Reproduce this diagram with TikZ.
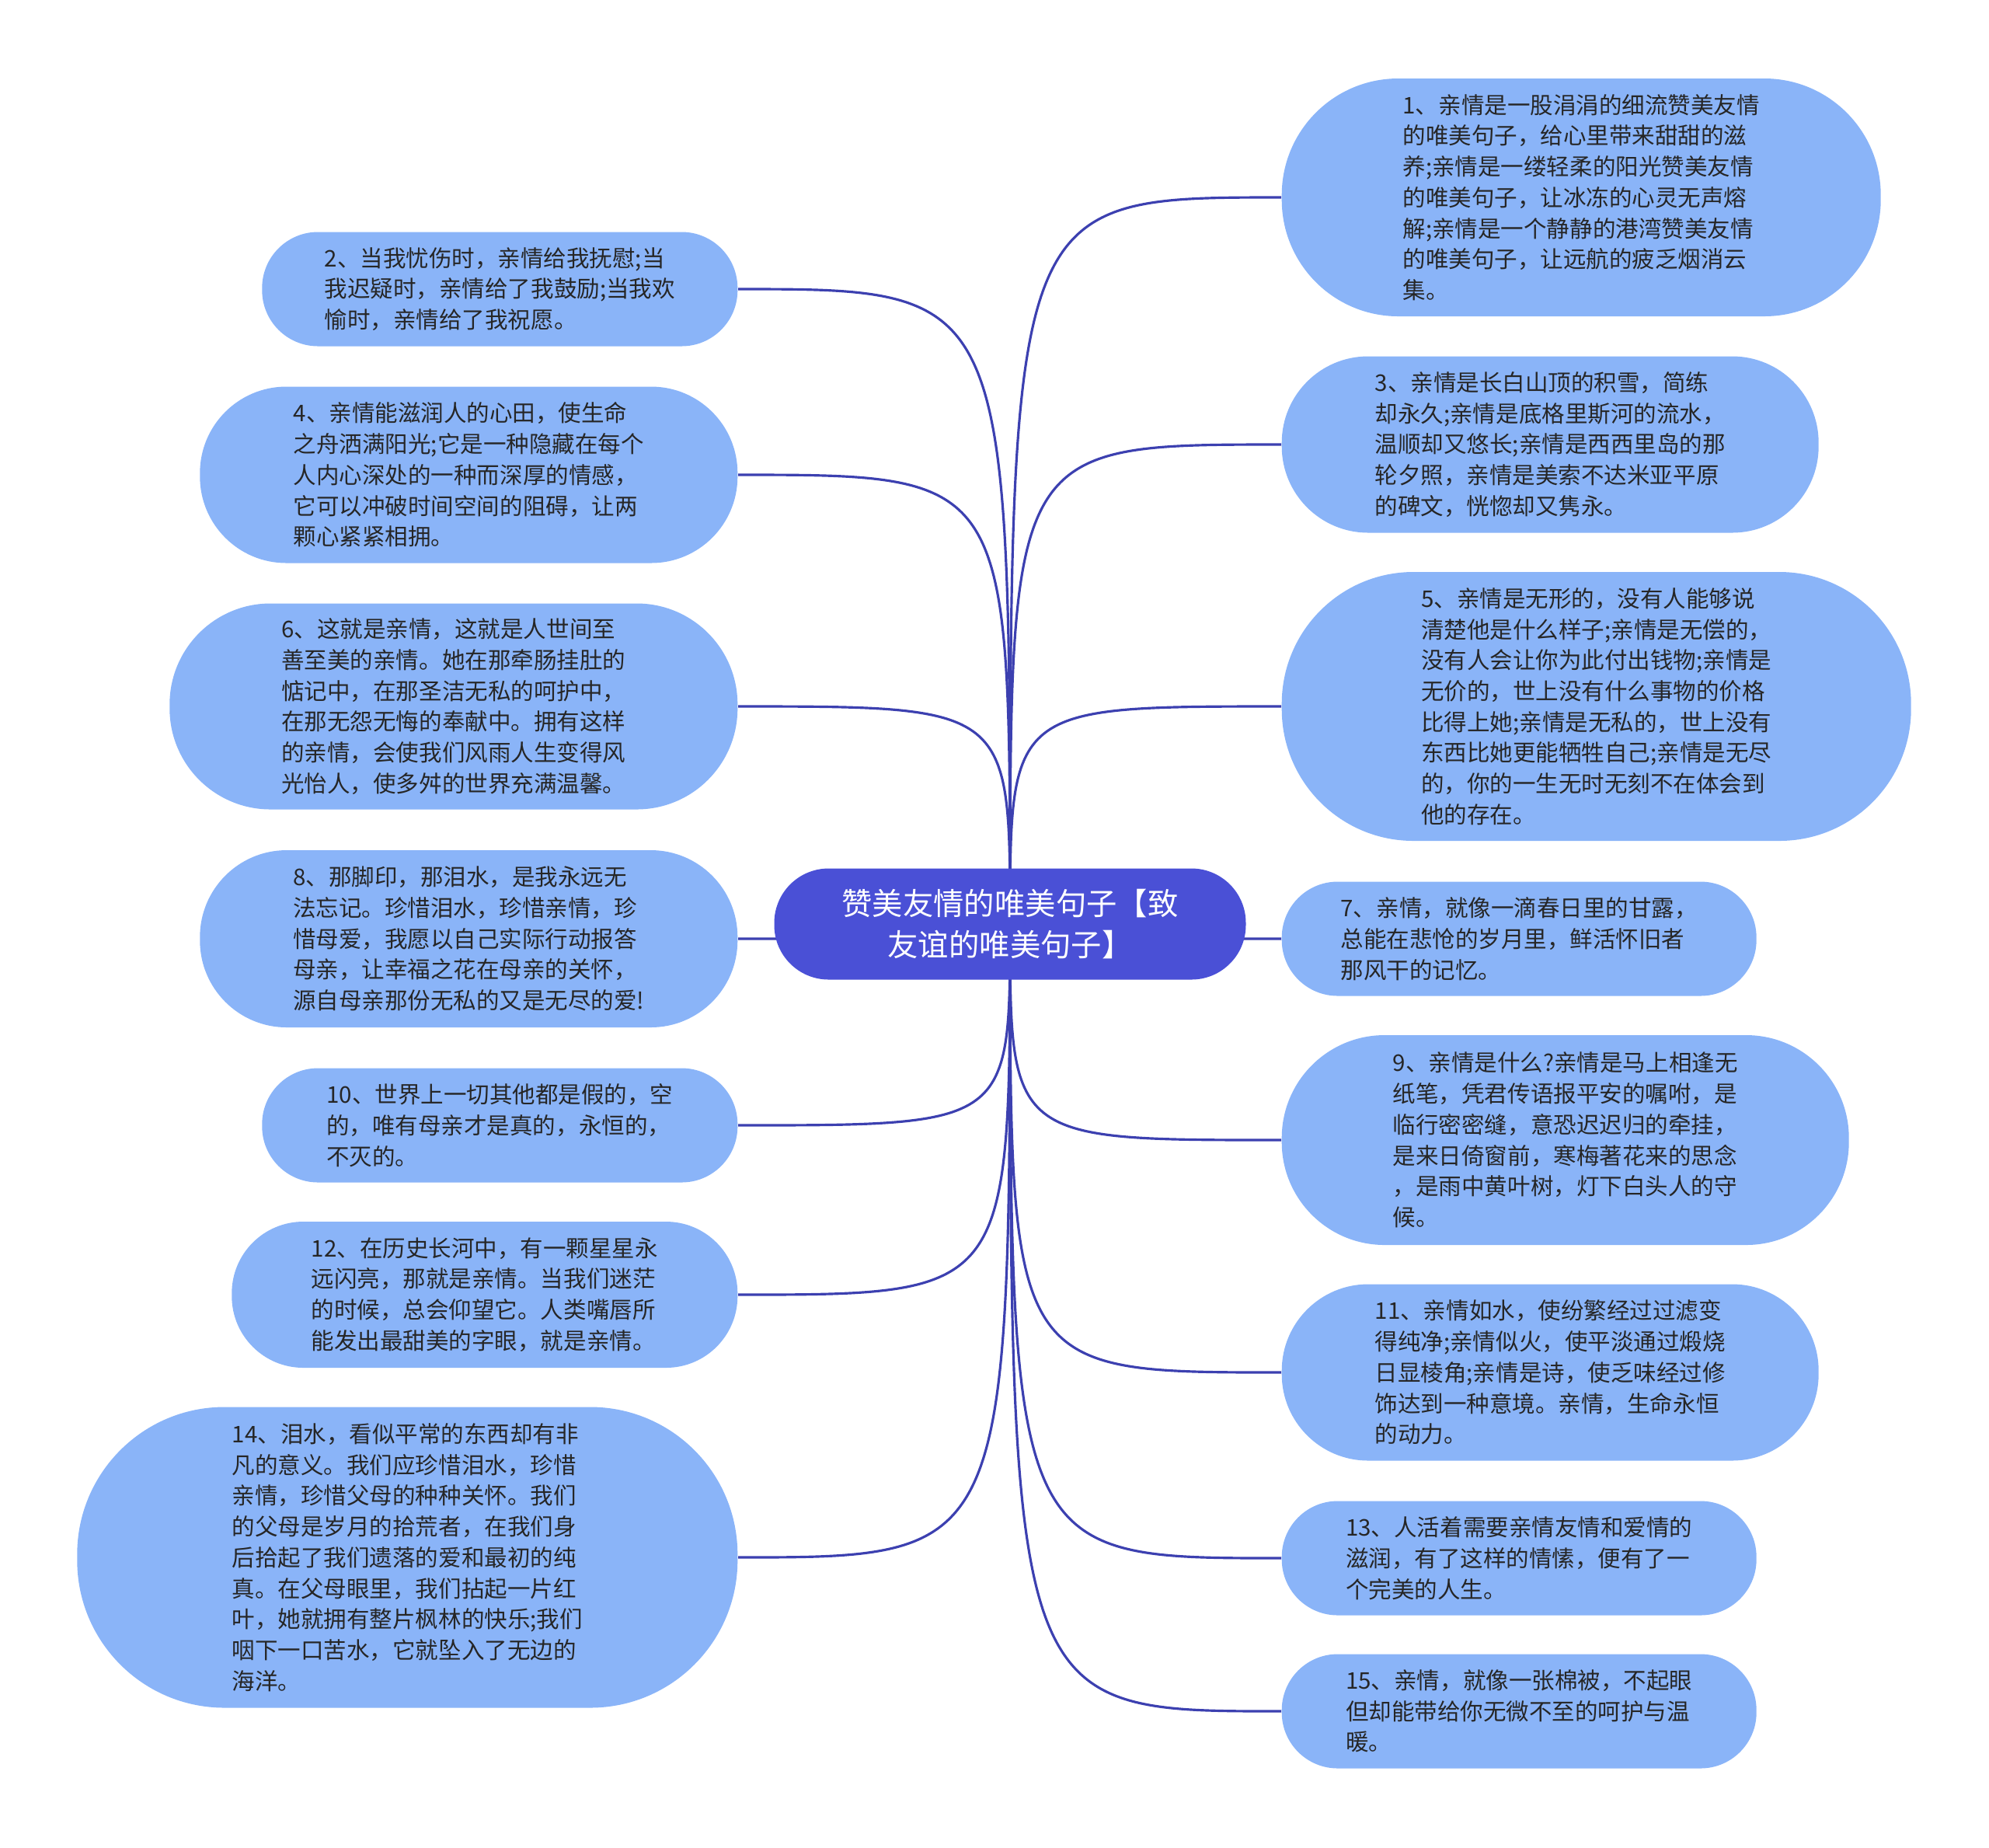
\documentclass[tikz,border=0pt]{standalone}
\usepackage{fontspec}
\setmainfont{Noto Sans CJK SC}
\usetikzlibrary{backgrounds}
\definecolor{leafblue}{HTML}{8AB4F8}
\definecolor{rootblue}{HTML}{4A50D6}
\definecolor{linkblue}{HTML}{3C40B0}
\definecolor{inkgray}{HTML}{262626}

\begin{document}
\begin{tikzpicture}[
  leaf/.style 2 args={fill=leafblue, text=inkgray, align=left, inner sep=0pt,
    minimum width=#1cm, minimum height=#2cm, rounded corners={0.49*#2cm},
    font=\fontsize{8.4pt}{11.3pt}\selectfont},
  lleaf/.style 2 args={leaf={#1}{#2}, anchor=east},
  rleaf/.style 2 args={leaf={#1}{#2}, anchor=west},
  link/.style={draw=linkblue, line width=0.9pt}]
\useasboundingbox (0,0) rectangle (25.6,-23.77);
\node[fill=rootblue, text=white, align=center, minimum width=6.07cm, minimum height=1.43cm,
  rounded corners={0.49*1.43cm}, font=\fontsize{11.2pt}{15.3pt}\selectfont]
  (root) at (13.0,-11.89) {赞美友情的唯美句子【致\\友谊的唯美句子】};
% left side
\node[lleaf={6.12}{1.47}] (n2) at (9.5,-3.72) {2、当我忧伤时，亲情给我抚慰;当\\我迟疑时，亲情给了我鼓励;当我欢\\愉时，亲情给了我祝愿。};
\node[lleaf={6.92}{2.27}] (n4) at (9.5,-6.11) {4、亲情能滋润人的心田，使生命\\之舟洒满阳光;它是一种隐藏在每个\\人内心深处的一种而深厚的情感，\\它可以冲破时间空间的阻碍，让两\\颗心紧紧相拥。};
\node[lleaf={7.31}{2.65}] (n6) at (9.5,-9.09) {6、这就是亲情，这就是人世间至\\善至美的亲情。她在那牵肠挂肚的\\惦记中，在那圣洁无私的呵护中，\\在那无怨无悔的奉献中。拥有这样\\的亲情，会使我们风雨人生变得风\\光怡人，使多舛的世界充满温馨。};
\node[lleaf={6.92}{2.28}] (n8) at (9.5,-12.08) {8、那脚印，那泪水，是我永远无\\法忘记。珍惜泪水，珍惜亲情，珍\\惜母爱，我愿以自己实际行动报答\\母亲，让幸福之花在母亲的关怀，\\源自母亲那份无私的又是无尽的爱!};
\node[lleaf={6.12}{1.47}] (n10) at (9.5,-14.48) {10、世界上一切其他都是假的，空\\的，唯有母亲才是真的，永恒的，\\不灭的。};
\node[lleaf={6.51}{1.88}] (n12) at (9.5,-16.66) {12、在历史长河中，有一颗星星永\\远闪亮，那就是亲情。当我们迷茫\\的时候，总会仰望它。人类嘴唇所\\能发出最甜美的字眼，就是亲情。};
\node[lleaf={8.50}{3.87}] (n14) at (9.5,-20.04) {14、泪水，看似平常的东西却有非\\凡的意义。我们应珍惜泪水，珍惜\\亲情，珍惜父母的种种关怀。我们\\的父母是岁月的拾荒者，在我们身\\后拾起了我们遗落的爱和最初的纯\\真。在父母眼里，我们拈起一片红\\叶，她就拥有整片枫林的快乐;我们\\咽下一口苦水，它就坠入了无边的\\海洋。};
% right side
\node[rleaf={7.71}{3.06}] (n1) at (16.49,-2.54) {1、亲情是一股涓涓的细流赞美友情\\的唯美句子，给心里带来甜甜的滋\\养;亲情是一缕轻柔的阳光赞美友情\\的唯美句子，让冰冻的心灵无声熔\\解;亲情是一个静静的港湾赞美友情\\的唯美句子，让远航的疲乏烟消云\\集。};
\node[rleaf={6.91}{2.27}] (n3) at (16.49,-5.72) {3、亲情是长白山顶的积雪，简练\\却永久;亲情是底格里斯河的流水，\\温顺却又悠长;亲情是西西里岛的那\\轮夕照，亲情是美索不达米亚平原\\的碑文，恍惚却又隽永。};
\node[rleaf={8.10}{3.46}] (n5) at (16.49,-9.09) {5、亲情是无形的，没有人能够说\\清楚他是什么样子;亲情是无偿的，\\没有人会让你为此付出钱物;亲情是\\无价的，世上没有什么事物的价格\\比得上她;亲情是无私的，世上没有\\东西比她更能牺牲自己;亲情是无尽\\的，你的一生无时无刻不在体会到\\他的存在。};
\node[rleaf={6.11}{1.47}] (n7) at (16.49,-12.08) {7、亲情，就像一滴春日里的甘露，\\总能在悲怆的岁月里，鲜活怀旧者\\那风干的记忆。};
\node[rleaf={7.30}{2.70}] (n9) at (16.49,-14.67) {9、亲情是什么?亲情是马上相逢无\\纸笔，凭君传语报平安的嘱咐，是\\临行密密缝，意恐迟迟归的牵挂，\\是来日倚窗前，寒梅著花来的思念\\，是雨中黄叶树，灯下白头人的守\\候。};
\node[rleaf={6.91}{2.27}] (n11) at (16.49,-17.66) {11、亲情如水，使纷繁经过过滤变\\得纯净;亲情似火，使平淡通过煅烧\\日显棱角;亲情是诗，使乏味经过修\\饰达到一种意境。亲情，生命永恒\\的动力。};
\node[rleaf={6.11}{1.47}] (n13) at (16.49,-20.05) {13、人活着需要亲情友情和爱情的\\滋润，有了这样的情愫，便有了一\\个完美的人生。};
\node[rleaf={6.11}{1.47}] (n15) at (16.49,-22.02) {15、亲情，就像一张棉被，不起眼\\但却能带给你无微不至的呵护与温\\暖。};
\begin{scope}[on background layer]
\foreach \n in {n2,n4,n6,n8,n10,n12,n14}
  \draw[link] (root.center) .. controls (root.center |- \n.east) .. (\n.east);
\foreach \n in {n1,n3,n5,n7,n9,n11,n13,n15}
  \draw[link] (root.center) .. controls (root.center |- \n.west) .. (\n.west);
\end{scope}
\end{tikzpicture}
\end{document}
